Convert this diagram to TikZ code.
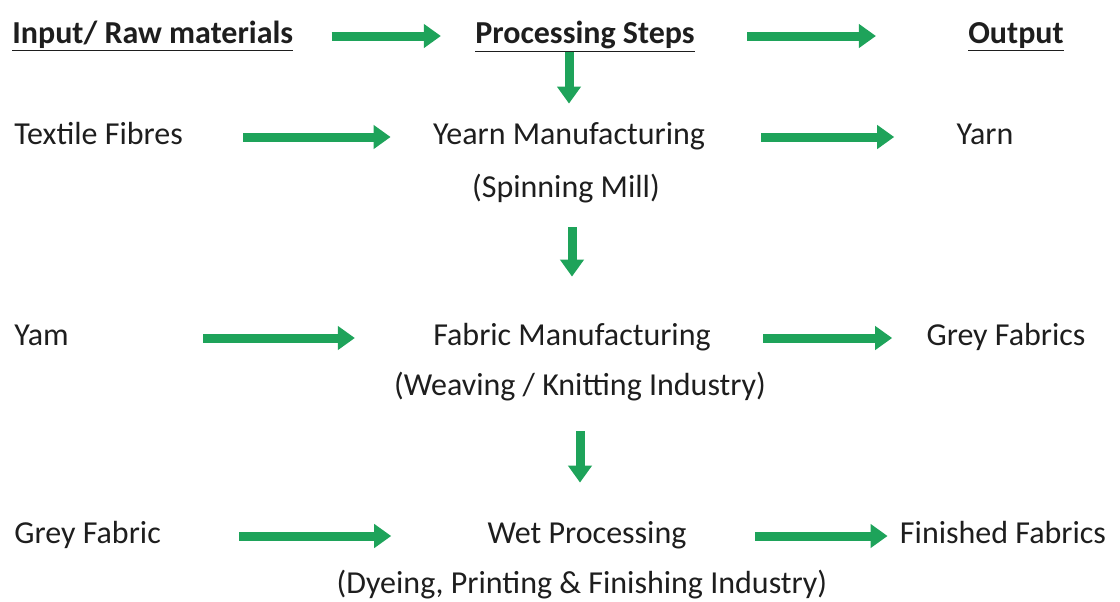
\documentclass[tikz,border=0pt]{standalone}
\usepackage{fontspec}
\setmainfont{Carlito}
\usepackage{tikz}
\usetikzlibrary{arrows.meta}

\definecolor{flowgreen}{RGB}{30,163,90}
\definecolor{inkgray}{RGB}{30,30,30}

\begin{document}
\begin{tikzpicture}[x=0.5pt,y=-0.5pt,
    every node/.style={inner sep=0pt,text height=11pt,text depth=4pt,
      text=inkgray,font=\fontsize{16}{19}\selectfont},
    head/.style={font=\fontsize{16}{19}\selectfont\bfseries},
    flow/.style={color=flowgreen,line width=4.5pt,
      every edge/.append style={-{Triangle[length=8.5pt,width=11.5pt]}}}]
  \useasboundingbox (0,0) rectangle (1120,601);

  % column heads
  \node[head,anchor=west] (inp) at (12,36) {\underline{Input/ Raw materials}};
  \node[head] (proc) at (585,36) {\underline{Processing Steps}};
  \node[head] (outp) at (1016,36) {\underline{Output}};

  % spinning
  \node[anchor=west] (fibres) at (14,137) {Textile Fibres};
  \node (yarnmfg) at (569,137) {Yearn Manufacturing};
  \node (spin) at (566,190) {(Spinning Mill)};
  \node (yarn) at (985,137) {Yarn};

  % weaving / knitting
  \node[anchor=west] (yam) at (14,338) {Yam};
  \node (fabmfg) at (572,338) {Fabric Manufacturing};
  \node (weave) at (580,388) {(Weaving / Knitting Industry)};
  \node (greyfabs) at (1006,338) {Grey Fabrics};

  % wet processing
  \node[anchor=west] (greyfab) at (14,536) {Grey Fabric};
  \node (wet) at (587,536) {Wet Processing};
  \node (dye) at (582,586) {(Dyeing, Printing \& Finishing Industry)};
  \node (finished) at (1003,536) {Finished Fabrics};
  \coordinate (wettop) at (weave.south |- wet.north);

  \path[flow]
    (inp) edge[shorten <=19pt,shorten >=17pt] (proc)
    (proc) edge[shorten <=26pt,shorten >=46pt] (outp)
    (proc.south -| yarnmfg.north) edge[shorten <=0.5pt,shorten >=9pt] (yarnmfg.north)
    (fibres) edge[shorten <=30pt,shorten >=21pt] (yarnmfg)
    (yarnmfg) edge[shorten <=28pt,shorten >=31pt] (yarn)
    (spin.south -| fabmfg.north) edge[shorten <=11pt,shorten >=23pt] (fabmfg.north)
    (yam) edge[shorten <=67pt,shorten >=39pt] (fabmfg)
    (fabmfg) edge[shorten <=26pt,shorten >=17pt] (greyfabs)
    (weave.south) edge[shorten <=14pt,shorten >=19pt] (wettop)
    (greyfab) edge[shorten <=39pt,shorten >=48pt] (wet)
    (wet) edge[shorten <=34pt,shorten >=6pt] (finished);
\end{tikzpicture}
\end{document}
